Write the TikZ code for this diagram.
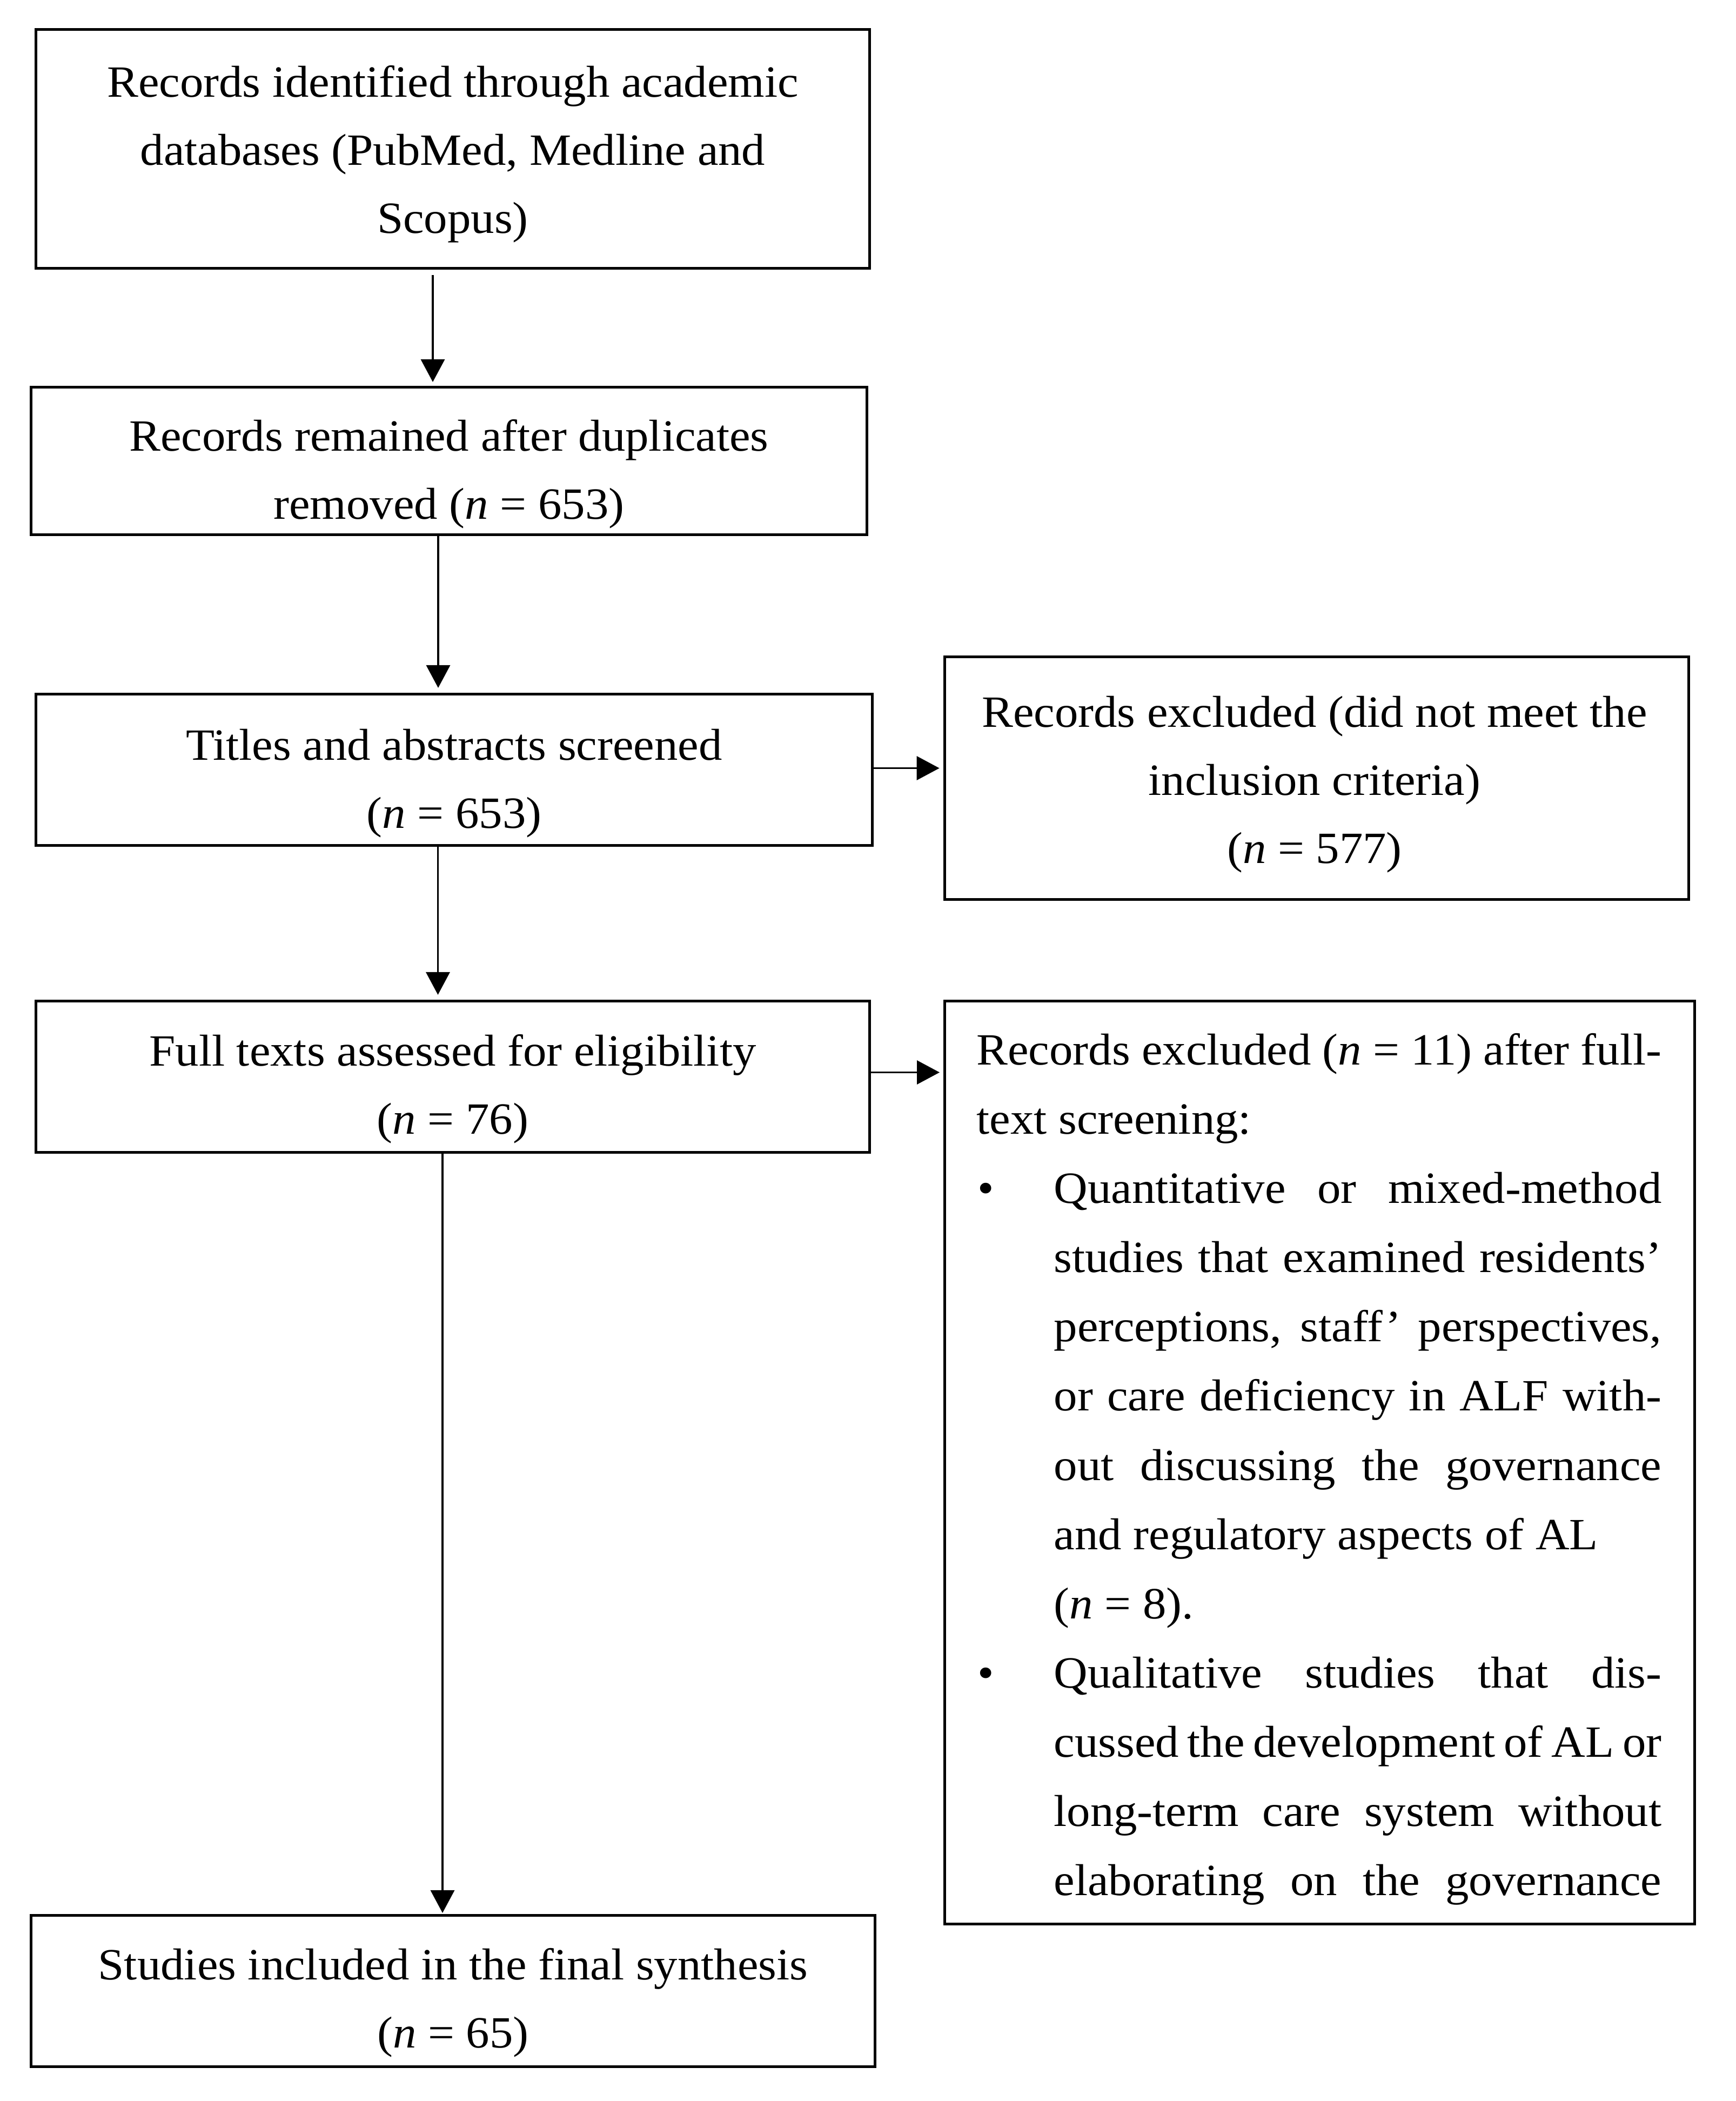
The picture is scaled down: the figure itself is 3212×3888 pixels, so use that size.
\documentclass[tikz,border=0pt]{standalone}
\usepackage{fontspec}
\setmainfont[FakeStretch=1.05]{Liberation Serif}
\usetikzlibrary{arrows.meta,calc}
\newcommand{\fsz}{\fontsize{23.5pt}{35.85pt}\selectfont}
\newcommand{\exline}[1]{\hbox to 13.87cm{\hskip0.59cm\hbox to 12.67cm{#1}\hss}}
\newcommand{\exlast}[1]{\hbox to 13.87cm{\hskip0.59cm #1\hss}}
\newcommand{\exbul}[1]{\hbox to 13.87cm{\hskip0.61cm\hbox to 1.41cm{\textbullet\hss}\hbox to 11.24cm{#1}\hss}}
\newcommand{\exind}[1]{\hbox to 13.87cm{\hskip2.02cm\hbox to 11.24cm{#1}\hss}}
\newcommand{\exindtight}[1]{\hbox to 13.87cm{\hskip2.02cm\hbox to 11.24cm{\spaceskip=0.12em plus 1em\relax #1}\hss}}
\newcommand{\exindlast}[1]{\hbox to 13.87cm{\hskip2.02cm #1\hss}}
\newcommand{\exbox}{\vbox to 17.07cm{\hsize=13.87cm\fsz\baselineskip=1.28cm\lineskiplimit=-\maxdimen\lineskip=0pt
\vskip-0.1cm\hbox{}%
\exline{Records excluded (\textit{n} = 11) after full-}
\exlast{text screening:}
\exbul{Quantitative or mixed-method}
\exind{studies that examined residents’}
\exind{perceptions, staff’ perspectives,}
\exind{or care deficiency in ALF with-}
\exind{out discussing the governance}
\exindlast{and regulatory aspects of AL}
\exindlast{(\textit{n} = 8).}
\exbul{Qualitative studies that dis-}
\exindtight{cussed the development of AL or}
\exind{long-term care system without}
\exind{elaborating on the governance}
\vss}}
\begin{document}
\begin{tikzpicture}[x=0.01cm,y=-0.01cm,
  box/.style={draw, line width=1.42pt, inner sep=0pt},
  lbl/.style={align=center, inner sep=0pt, font=\fsz},
  arr/.style={line width=1pt, -{Triangle[length=0.42cm,width=0.44cm]}}]
\useasboundingbox (0,0) rectangle (3212,3888);
\fill[white] (0,0) rectangle (3212,3888);

\node[box, minimum width=15.43cm, minimum height=4.42cm] (b1) at (838,275.5) {};
\node[lbl] (t1) at ($(b1.center)+(0,10)$) {Records identified through academic\\databases (PubMed, Medline and\\Scopus)};

\node[box, minimum width=15.47cm, minimum height=2.73cm] (b2) at (831,853) {};
\node[lbl] (t2) at ($(b2.center)+(0,24)$) {Records remained after duplicates\\removed (\textit{n} = 653)};

\node[box, minimum width=15.48cm, minimum height=2.80cm] (b3) at (840.5,1424.5) {};
\node[lbl] (t3) at ($(b3.center)+(0,25)$) {Titles and abstracts screened\\(\textit{n} = 653)};

\node[box, minimum width=13.77cm, minimum height=4.49cm] (b4) at (2437,1440) {};
\node[lbl] (t4) at ($(b4.center)+(-4,12)$) {Records excluded (did not meet the\\inclusion criteria)\\(\textit{n} = 577)};

\node[box, minimum width=15.43cm, minimum height=2.80cm] (b5) at (838,1992.5) {};
\node[lbl] (t5) at ($(b5.center)+(0,23)$) {Full texts assessed for eligibility\\(\textit{n} = 76)};

\node[box, anchor=north west] (b6) at (1746,1850) {\exbox};

\node[box, minimum width=15.62cm, minimum height=2.80cm] (b7) at (838.5,3684.5) {};
\node[lbl] (t7) at ($(b7.center)+(0,22)$) {Studies included in the final synthesis\\(\textit{n} = 65)};

\draw[arr] ($(b1.south)+(-37,10)$) -- ($(b1.south |- b2.north)+(-37,-7)$);
\draw[arr] ($(b2.south)+(-20,0)$) -- ($(b2.south |- b3.north)+(-20,-9)$);
\draw[arr] ($(b3.south)+(-30,-3)$) -- ($(b3.south |- b5.north)+(-30,-9)$);
\draw[arr] ($(b5.south)+(-19,0)$) -- ($(b5.south |- b7.north)+(-19,-2)$);
\draw[arr] ($(b3.east)+(0,-3)$) -- ($(b3.east -| b4.west)+(-7,-3)$);
\draw[arr] ($(b5.east)+(0,-8)$) -- ($(b5.east -| b6.west)+(-7,-8)$);
\end{tikzpicture}
\end{document}
